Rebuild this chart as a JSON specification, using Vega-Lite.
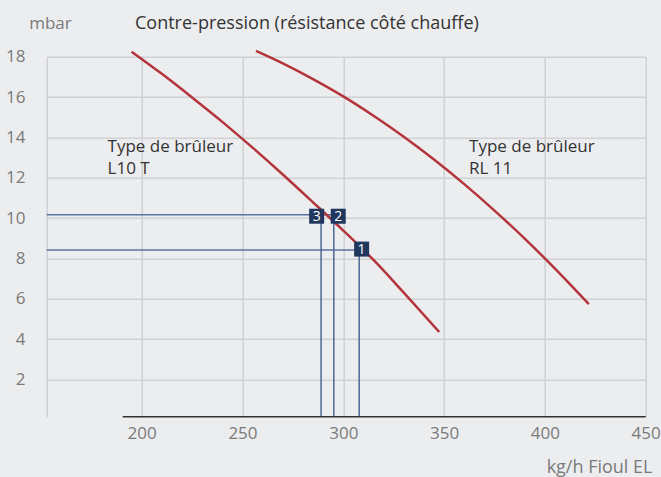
{
  "$schema": "https://vega.github.io/schema/vega-lite/v6.json",
  "width": 599,
  "height": 360,
  "autosize": {"type": "none"},
  "padding": {"left": 46.7, "top": 56.7, "right": 15.3, "bottom": 60.3},
  "background": "#ecedef",
  "config": {
    "view": {"stroke": null},
    "font": "Open Sans",
    "text": {"font": "Open Sans"}
  },
  "title": {
    "text": "Contre-pression (résistance côté chauffe)",
    "anchor": "start",
    "frame": "group",
    "dx": 88.3,
    "dy": 27,
    "fontSize": 18,
    "fontWeight": "normal",
    "color": "#333333",
    "baseline": "middle",
    "offset": 0
  },
  "datasets": {
    "curves": [
      {"burner": "L10 T", "x": 195, "y": 18.25},
      {"burner": "L10 T", "x": 210, "y": 17.15},
      {"burner": "L10 T", "x": 225, "y": 15.98},
      {"burner": "L10 T", "x": 240, "y": 14.77},
      {"burner": "L10 T", "x": 255, "y": 13.49},
      {"burner": "L10 T", "x": 270, "y": 12.16},
      {"burner": "L10 T", "x": 285, "y": 10.78},
      {"burner": "L10 T", "x": 300, "y": 9.38},
      {"burner": "L10 T", "x": 315, "y": 7.92},
      {"burner": "L10 T", "x": 330, "y": 6.3},
      {"burner": "L10 T", "x": 347.6, "y": 4.35},
      {"burner": "RL 11", "x": 256.7, "y": 18.29},
      {"burner": "RL 11", "x": 270, "y": 17.67},
      {"burner": "RL 11", "x": 285, "y": 16.89},
      {"burner": "RL 11", "x": 300, "y": 16.03},
      {"burner": "RL 11", "x": 315, "y": 15.07},
      {"burner": "RL 11", "x": 330, "y": 14.03},
      {"burner": "RL 11", "x": 345, "y": 12.9},
      {"burner": "RL 11", "x": 360, "y": 11.68},
      {"burner": "RL 11", "x": 375, "y": 10.37},
      {"burner": "RL 11", "x": 390, "y": 8.98},
      {"burner": "RL 11", "x": 405, "y": 7.49},
      {"burner": "RL 11", "x": 421.8, "y": 5.73}
    ],
    "hlines": [
      {"x": 152.9, "x2": 295.3, "y": 10.16},
      {"x": 152.9, "x2": 307.9, "y": 8.41}
    ],
    "vlines": [
      {"x": 289.0, "y": 0.15, "y2": 10.16},
      {"x": 295.3, "y": 0.15, "y2": 10.16},
      {"x": 307.9, "y": 0.15, "y2": 8.41}
    ],
    "baseline": [
      {"x": 190.6, "x2": 450, "y": 0.15}
    ],
    "markers": [
      {"id": "1", "x": 309.1, "y": 8.46},
      {"id": "2", "x": 297.5, "y": 10.09},
      {"id": "3", "x": 286.8, "y": 10.09}
    ],
    "labels": [
      {"label": "Type de brûleur", "x": 183.1, "y": 13.53},
      {"label": "L10 T", "x": 183.1, "y": 12.41},
      {"label": "Type de brûleur", "x": 362.4, "y": 13.53},
      {"label": "RL 11", "x": 362.4, "y": 12.41}
    ]
  },
  "encoding": {
    "x": {
      "field": "x",
      "type": "quantitative",
      "scale": {"domain": [152.9, 450], "nice": false, "zero": false},
      "axis": {
        "values": [200, 250, 300, 350, 400, 450],
        "grid": true,
        "gridColor": "#d0d1d4",
        "gridWidth": 1.5,
        "domain": false,
        "ticks": false,
        "labelFlush": false,
        "labelPadding": 9,
        "labelFontSize": 17,
        "labelColor": "#7a7a7a",
        "title": "kg/h Fioul EL",
        "titleFontSize": 18,
        "titleFontWeight": "normal",
        "titleColor": "#7a7a7a",
        "titleX": 605.3,
        "titleY": 51,
        "titleAlign": "right",
        "titleBaseline": "middle"
      }
    },
    "y": {
      "field": "y",
      "type": "quantitative",
      "scale": {"domain": [0.15, 18], "nice": false, "zero": false},
      "axis": {
        "values": [2, 4, 6, 8, 10, 12, 14, 16, 18],
        "grid": true,
        "gridColor": "#d0d1d4",
        "gridWidth": 1.5,
        "domain": true,
        "domainColor": "#d0d1d4",
        "domainWidth": 1.5,
        "ticks": false,
        "labelFlush": false,
        "labelPadding": 21.7,
        "labelFontSize": 17,
        "labelColor": "#7a7a7a",
        "title": "mbar",
        "titleAngle": 0,
        "titleAlign": "left",
        "titleBaseline": "middle",
        "titleX": -18,
        "titleY": -33,
        "titleFontSize": 17,
        "titleFontWeight": "normal",
        "titleColor": "#7a7a7a"
      }
    }
  },
  "layer": [
    {
      "data": {"name": "hlines"},
      "mark": {"type": "rule", "color": "#5a74a0", "strokeWidth": 1.5},
      "encoding": {"x2": {"field": "x2"}}
    },
    {
      "data": {"name": "vlines"},
      "mark": {"type": "rule", "color": "#4d6894", "strokeWidth": 1.5},
      "encoding": {"y2": {"field": "y2"}}
    },
    {
      "data": {"name": "baseline"},
      "mark": {"type": "rule", "color": "#333333", "strokeWidth": 1.5},
      "encoding": {"x2": {"field": "x2"}}
    },
    {
      "data": {"name": "curves"},
      "mark": {"type": "line", "color": "#b3353b", "strokeWidth": 2.5, "interpolate": "monotone"},
      "encoding": {"detail": {"field": "burner"}}
    },
    {
      "data": {"name": "markers"},
      "mark": {"type": "point", "shape": "square", "filled": true, "size": 225, "color": "#21375e", "opacity": 1},
      "encoding": {}
    },
    {
      "data": {"name": "markers"},
      "mark": {"type": "text", "color": "#ffffff", "fontSize": 14, "align": "center", "baseline": "middle", "dy": 1},
      "encoding": {"text": {"field": "id"}}
    },
    {
      "data": {"name": "labels"},
      "mark": {"type": "text", "color": "#333333", "fontSize": 17, "align": "left", "baseline": "middle"},
      "encoding": {"text": {"field": "label"}}
    }
  ]
}
